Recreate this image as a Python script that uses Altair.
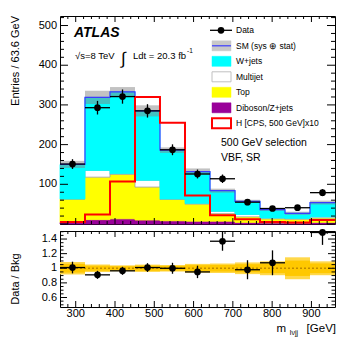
import altair as alt
import numpy as np
import pandas as pd

# ---------------- data ----------------
bin_edges = [260.0, 323.6, 387.3, 450.9, 514.5, 578.2, 641.8, 705.5, 769.1, 832.7, 896.4, 960.0]
diboson = [4, 11, 13, 10, 8, 7, 7, 4, 3, 3, 4]
top = [59, 107, 112, 83, 54, 43, 19, 14, 10, 9, 11]
multijet = [0, 17, 2, 17, 1, 2, 6, 6, 2, 2, 3]
wjets = [87, 184, 206, 175, 123, 80, 52, 33, 21, 13, 36]
sm_err = [9, 17, 12, 14, 7, 8, 5, 4, 3, 4, 5]
data = [151, 293, 321, 285, 187, 126, 114, 55, 39, 41, 79]
signal_x10 = [5, 24, 107, 320, 255, 72, 22, 12, 5, 4, 10]
ratio = [1.01, 0.91, 0.965, 1.01, 1.0, 0.95, 1.37, 0.98, 1.075, None, 1.49]
ratio_err = [0.08, 0.055, 0.055, 0.06, 0.075, 0.085, 0.13, 0.13, 0.17, None, 0.17]
band_err = [0.085, 0.05, 0.04, 0.05, 0.045, 0.06, 0.065, 0.08, 0.095, 0.15, 0.095]

comp_names = ["Diboson/Z+jets", "Top", "Multijet", "W+jets"]
comp_fill = ["#990099", "#FFFF00", "#FFFFFF", "#00FFFF"]
comp_stroke = ["#990099", "#FFFF00", "#9a9a9a", "#00FFFF"]
legend_labels = ["Data", "SM (sys \u2295 stat)", "W+jets", "Multijet", "Top",
                 "Diboson/Z+jets", "H [CPS, 500 GeV]x10"]

x_major = [300, 400, 500, 600, 700, 800, 900]
x_labels = ["300", "400", "500", "600", "700", "800", "900"]
y_major = [100, 200, 300, 400, 500]
y_labels = ["100", "200", "300", "400", "500"]
r_major = [0.6, 0.8, 1.0, 1.2, 1.4]
r_labels = ["0.6", "0.8", "1", "1.2", "1.4"]

# ---------------- derived tables ----------------
lo = np.array(bin_edges[:-1])
hi = np.array(bin_edges[1:])
ctr = (lo + hi) / 2
nb = len(lo)

rows = []
base = np.zeros(nb)
for name, vals in zip(comp_names, [diboson, top, multijet, wjets]):
    v = np.array(vals, float)
    for i in range(nb):
        rows.append(dict(comp=name, lo=lo[i], hi=hi[i], y0=base[i], y1=base[i] + v[i]))
    base = base + v
total = base
stack_df = pd.DataFrame(rows)

bins_df = pd.DataFrame(dict(lo=lo, hi=hi, ctr=ctr, total=total,
                            tlo=total - np.array(sm_err), thi=total + np.array(sm_err),
                            data=data, dlo=np.array(data) - np.sqrt(data),
                            dhi=np.array(data) + np.sqrt(data),
                            blo=1 - np.array(band_err), bhi=1 + np.array(band_err),
                            ilo=1 - 0.7 * np.array(band_err), ihi=1 + 0.7 * np.array(band_err)))


def step_df(vals):
    r = []
    for i in range(nb):
        r.append(dict(x=lo[i], y=vals[i], o=2 * i))
        r.append(dict(x=hi[i], y=vals[i], o=2 * i + 1))
    return pd.DataFrame(r)


sm_step = step_df(total)
sig_step = step_df(signal_x10)

R_LO, R_HI = 0.47, 1.51
rat_rows = []
for i in range(nb):
    if ratio[i] is not None:
        rat_rows.append(dict(lo=lo[i], hi=hi[i], ctr=ctr[i], r=ratio[i],
                             rlo=max(ratio[i] - ratio_err[i], R_LO),
                             rhi=min(ratio[i] + ratio_err[i], R_HI)))
rat_df = pd.DataFrame(rat_rows)

W, H, H2 = 275, 208, 76
xscale = alt.Scale(domain=[260, 960], nice=False, zero=False)
yscale = alt.Scale(domain=[0, 524], nice=False, zero=False)
rscale = alt.Scale(domain=[R_LO, R_HI], nice=False, zero=False)

x_minor = [v for v in range(280, 960, 20) if v % 100 != 0]
y_minor = [v for v in range(20, 524, 20) if v % 100 != 0]
r_minor = [round(v, 2) for v in np.arange(0.5, 1.51, 0.05) if abs(v * 5 - round(v * 5)) > 1e-6]

one_row = pd.DataFrame(dict(k=[0]))


def X(f):
    return alt.X(f, scale=xscale, axis=None)


def Y(f, sc):
    return alt.Y(f, scale=sc, axis=None)


def xticks(vals, hh, ln):
    d = pd.DataFrame(dict(v=vals))
    b = alt.Chart(d).mark_rule(color="black", strokeWidth=1).encode(
        x=X("v:Q"), y=alt.value(hh), y2=alt.value(hh - ln))
    t = alt.Chart(d).mark_rule(color="black", strokeWidth=1).encode(
        x=X("v:Q"), y=alt.value(0), y2=alt.value(ln))
    return [b, t]


def yticks(vals, ln, sc):
    d = pd.DataFrame(dict(v=vals))
    l = alt.Chart(d).mark_rule(color="black", strokeWidth=1).encode(
        y=Y("v:Q", sc), x=alt.value(0), x2=alt.value(ln))
    r = alt.Chart(d).mark_rule(color="black", strokeWidth=1).encode(
        y=Y("v:Q", sc), x=alt.value(W), x2=alt.value(W - ln))
    return [l, r]


def ylabels(vals, labs, sc):
    d = pd.DataFrame(dict(v=vals, t=labs))
    return alt.Chart(d).mark_text(align="right", baseline="middle", fontSize=11, color="black").encode(
        y=Y("v:Q", sc), x=alt.value(-3), text="t:N")


def txt(s, x, y, size, **kw):
    return alt.Chart(pd.DataFrame(dict(t=[s]))).mark_text(
        align=kw.pop("align", "left"), baseline=kw.pop("baseline", "alphabetic"),
        fontSize=size, color="black", **kw
    ).encode(x=alt.value(x), y=alt.value(y), text="t:N")


def vrect(x0, x1, y0, y1, fill, stroke, sw):
    return alt.Chart(one_row).mark_rect(fill=fill, stroke=stroke, strokeWidth=sw).encode(
        x=alt.value(x0), x2=alt.value(x1), y=alt.value(y0), y2=alt.value(y1))


def vrule(x0, x1, y, color, sw):
    return alt.Chart(one_row).mark_rule(color=color, strokeWidth=sw).encode(
        x=alt.value(x0), x2=alt.value(x1), y=alt.value(y))


# ---------------- main panel ----------------
stack = alt.Chart(stack_df).mark_rect(strokeWidth=0.8).encode(
    x=X("lo:Q"), x2="hi", y=Y("y0:Q", yscale), y2="y1",
    fill=alt.Color("comp:N", scale=alt.Scale(domain=comp_names, range=comp_fill), legend=None),
    stroke=alt.Stroke("comp:N", scale=alt.Scale(domain=comp_names, range=comp_stroke), legend=None),
)

hatch = alt.Chart(bins_df).mark_rect(fill="#858585", opacity=0.5).encode(
    x=X("lo:Q"), x2="hi", y=Y("tlo:Q", yscale), y2="thi")

sm_line = alt.Chart(sm_step).mark_line(color="#3b3bff", strokeWidth=1.2).encode(
    x=X("x:Q"), y=Y("y:Q", yscale), order="o:Q")

sig_line = alt.Chart(sig_step).mark_line(color="#FF0000", strokeWidth=2).encode(
    x=X("x:Q"), y=Y("y:Q", yscale), order="o:Q")

d_err = alt.Chart(bins_df).mark_rule(color="black", strokeWidth=1.3).encode(
    x=X("ctr:Q"), y=Y("dlo:Q", yscale), y2="dhi")
d_h = alt.Chart(bins_df).mark_rule(color="black", strokeWidth=1.3).encode(
    x=X("lo:Q"), x2="hi", y=Y("data:Q", yscale))
d_pt = alt.Chart(bins_df).mark_point(filled=True, color="black", size=45, opacity=1).encode(
    x=X("ctr:Q"), y=Y("data:Q", yscale))

# legend (drawn by hand, ROOT style)
rowy = [14.3 + 15.5 * i for i in range(len(legend_labels))]
box_fill = ["#c8c8c8", "#00FFFF", "#FFFFFF", "#FFFF00", "#990099", "#FFFFFF"]
box_stroke = ["#c8c8c8", "#00FFFF", "#c0c0c0", "#FFFF00", "#990099", "#FF0000"]
box_sw = [0.5, 0.5, 1, 0.5, 0.5, 2]
legend = []
for i in range(1, 7):
    legend.append(vrect(152, 171, rowy[i] - 5, rowy[i] + 5, box_fill[i - 1], box_stroke[i - 1], box_sw[i - 1]))
legend.append(vrule(152, 171, rowy[1], "#3b3bff", 1.2))
legend.append(vrule(150, 172, rowy[0], "black", 1.3))
legend.append(alt.Chart(one_row).mark_point(filled=True, color="black", size=45, opacity=1).encode(
    x=alt.value(161), y=alt.value(rowy[0])))
for i, lab in enumerate(legend_labels):
    legend.append(txt(lab, 176, rowy[i], 8.5, baseline="middle"))

annot = [
    txt("ATLAS", 14, 21, 14, fontWeight="bold", fontStyle="italic"),
    txt("\u221as=8 TeV", 15, 43, 9.5),
    txt("\u222b", 61, 48, 17),
    txt("Ldt = 20.3 fb", 73, 43, 9.5),
    txt("-1", 127, 37, 6.5),
    txt("500 GeV selection", 161, 130, 10.5),
    txt("VBF, SR", 161, 145, 10.5),
    txt("Entries / 63.6 GeV", -41, 0, 11, align="right", angle=270),
]

main = alt.layer(
    stack, hatch, sm_line, sig_line, d_err, d_h, d_pt,
    *xticks(x_major, H, 6), *xticks(x_minor, H, 3),
    *yticks([0] + y_major, 8, yscale), *yticks(y_minor, 4, yscale),
    ylabels(y_major, y_labels, yscale),
    *legend, *annot,
).properties(width=W, height=H)

# ---------------- ratio panel ----------------
band_o = alt.Chart(bins_df).mark_rect(fill="#FFD84A").encode(
    x=X("lo:Q"), x2="hi", y=Y("blo:Q", rscale), y2="bhi")
band_i = alt.Chart(bins_df).mark_rect(fill="#FFC800").encode(
    x=X("lo:Q"), x2="hi", y=Y("ilo:Q", rscale), y2="ihi")
one = alt.Chart(pd.DataFrame(dict(a=[260.0], b=[960.0], y=[1.0]))).mark_rule(
    color="#C08A00", strokeWidth=1.5, strokeDash=[2, 2]).encode(
    x=X("a:Q"), x2="b", y=Y("y:Q", rscale))
r_err = alt.Chart(rat_df).mark_rule(color="black", strokeWidth=1.3).encode(
    x=X("ctr:Q"), y=Y("rlo:Q", rscale), y2="rhi")
r_h = alt.Chart(rat_df).mark_rule(color="black", strokeWidth=1.3).encode(
    x=X("lo:Q"), x2="hi", y=Y("r:Q", rscale))
r_pt = alt.Chart(rat_df).mark_point(filled=True, color="black", size=45, opacity=1).encode(
    x=X("ctr:Q"), y=Y("r:Q", rscale))

xlab = alt.Chart(pd.DataFrame(dict(v=x_major, t=x_labels))).mark_text(
    align="center", baseline="top", fontSize=11, color="black").encode(
    x=X("v:Q"), y=alt.value(H2 + 1), text="t:N")

rtexts = [
    txt("Data / Bkg", -41, 48, 11, align="center", angle=270),
    txt("[GeV]", W + 1, 101, 11.5, align="right"),
    txt("l\u03bdjj", 238, 104, 7, align="right"),
    txt("m", 226, 101, 11.5, align="right"),
]

ratio_chart = alt.layer(
    band_o, band_i, one, r_err, r_h, r_pt,
    *xticks(x_major, H2, 6), *xticks(x_minor, H2, 3),
    *yticks(r_major, 7, rscale), *yticks(r_minor, 3.5, rscale),
    ylabels(r_major, r_labels, rscale), xlab, *rtexts,
).properties(width=W, height=H2)

chart = alt.vconcat(main, ratio_chart, spacing=1).properties(
    padding={"left": 1, "top": 7, "right": 5, "bottom": 5}
).configure(font="Liberation Sans").configure_view(stroke="black", strokeWidth=1)

chart.save("out.html", embed_options={"renderer": "svg", "actions": False})
